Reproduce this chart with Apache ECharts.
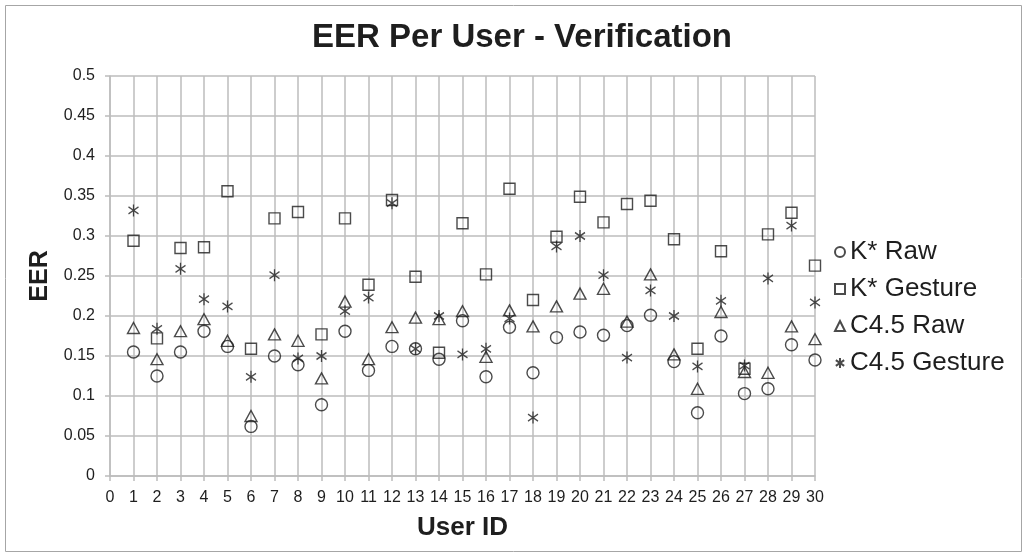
<!DOCTYPE html>
<html>
<head>
<meta charset="utf-8">
<script src="https://cdn.jsdelivr.net/npm/echarts@6/dist/echarts.min.js"></script>
<style>
html,body{margin:0;padding:0;background:#fff;}
#chart{width:1027px;height:556px;}
</style>
</head>
<body>
<div id="chart"></div>
<script>
var users = [1,2,3,4,5,6,7,8,9,10,11,12,13,14,15,16,17,18,19,20,21,22,23,24,25,26,27,28,29,30];
var kRaw = [0.155,0.125,0.155,0.181,0.162,0.062,0.150,0.139,0.089,0.181,0.132,0.162,0.159,0.146,0.194,0.124,0.186,0.129,0.173,0.180,0.176,0.188,0.201,0.143,0.079,0.175,0.103,0.109,0.164,0.145];
var kGesture = [0.294,0.172,0.285,0.286,0.356,0.159,0.322,0.330,0.177,0.322,0.239,0.345,0.249,0.154,0.316,0.252,0.359,0.220,0.299,0.349,0.317,0.340,0.344,0.296,0.159,0.281,0.134,0.302,0.329,0.263];
var c45Raw = [0.185,0.146,0.181,0.196,0.169,0.075,0.177,0.169,0.122,0.218,0.146,0.186,0.198,0.196,0.206,0.149,0.207,0.187,0.212,0.228,0.234,0.193,0.252,0.152,0.109,0.205,0.130,0.129,0.187,0.171];
var c45Gesture = [0.332,0.184,0.259,0.221,0.212,0.124,0.251,0.147,0.150,0.206,0.223,0.341,0.159,0.200,0.152,0.159,0.197,0.073,0.287,0.300,0.251,0.148,0.232,0.200,0.137,0.219,0.138,0.247,0.313,0.217];
var seriesNames = ['K* Raw','K* Gesture','C4.5 Raw','C4.5 Gesture'];

var FONT = 'Liberation Sans, Arial, sans-serif';
var INK = '#1e1e1e';
var GRIDC = '#bcbcbc';
var STAR = 'path://M5,0L5,12M0,2.5L10,9.5M10,2.5L0,9.5';

function pairs(vals){ return users.map(function(u,i){ return [u, vals[i]]; }); }
function mk(name, vals, symbol, size){
  return {
    name: name, type: 'scatter', data: pairs(vals),
    symbol: symbol, symbolSize: size,
    itemStyle: {color: 'rgba(0,0,0,0)', borderColor: INK, borderWidth: 1.4},
    emphasis: {disabled: true}
  };
}

var chart = echarts.init(document.getElementById('chart'), null, {renderer:'canvas'});
chart.setOption({
  animation: false,
  backgroundColor: '#fff',
  textStyle: {fontFamily: FONT},
  title: {
    text: 'EER Per User - Verification',
    left: 312, top: 21, padding: 0,
    textStyle: {fontFamily: FONT, fontSize: 33, fontWeight: 'bold', color: INK}
  },
  graphic: [{
    type: 'rect', shape: {x: 5.5, y: 5.5, width: 1016, height: 546},
    style: {fill: 'none', stroke: '#a6a6a6', lineWidth: 1}, silent: true, z: -1
  }],
  grid: {left: 110, right: 212, top: 76, bottom: 80},
  xAxis: {
    type: 'value', min: 0, max: 30, interval: 1,
    name: 'User ID', nameLocation: 'middle', nameGap: 39,
    nameTextStyle: {fontFamily: FONT, fontSize: 26, fontWeight: 'bold', color: INK},
    axisLine: {show: true, lineStyle: {color: GRIDC, width: 1.5}},
    axisTick: {show: true, length: 5, lineStyle: {color: GRIDC, width: 1.5}},
    axisLabel: {margin: 14, fontFamily: FONT, fontSize: 16, color: INK},
    splitLine: {show: true, lineStyle: {color: GRIDC, width: 1.5}}
  },
  yAxis: {
    type: 'value', min: 0, max: 0.5, interval: 0.05,
    name: 'EER', nameLocation: 'middle', nameGap: 54, nameRotate: 90,
    nameTextStyle: {fontFamily: FONT, fontSize: 25, fontWeight: 'bold', color: INK},
    axisLine: {show: true, lineStyle: {color: GRIDC, width: 1.5}},
    axisTick: {show: true, length: 5, lineStyle: {color: GRIDC, width: 1.5}},
    axisLabel: {margin: 15, fontFamily: FONT, fontSize: 16, color: INK,
      formatter: function(v){ return String(parseFloat(v.toFixed(2))); }},
    splitLine: {show: true, lineStyle: {color: GRIDC, width: 1.5}}
  },
  legend: {
    orient: 'vertical', left: 834, top: 239, padding: 0,
    itemWidth: 10, itemHeight: 10, itemGap: 11,
    textStyle: {fontFamily: FONT, fontSize: 26, color: INK},
    data: seriesNames
  },
  series: [
    mk(seriesNames[0], kRaw, 'circle', 12),
    mk(seriesNames[1], kGesture, 'rect', 11),
    mk(seriesNames[2], c45Raw, 'triangle', [12, 11]),
    mk(seriesNames[3], c45Gesture, STAR, [10, 12])
  ]
});
</script>
</body>
</html>
